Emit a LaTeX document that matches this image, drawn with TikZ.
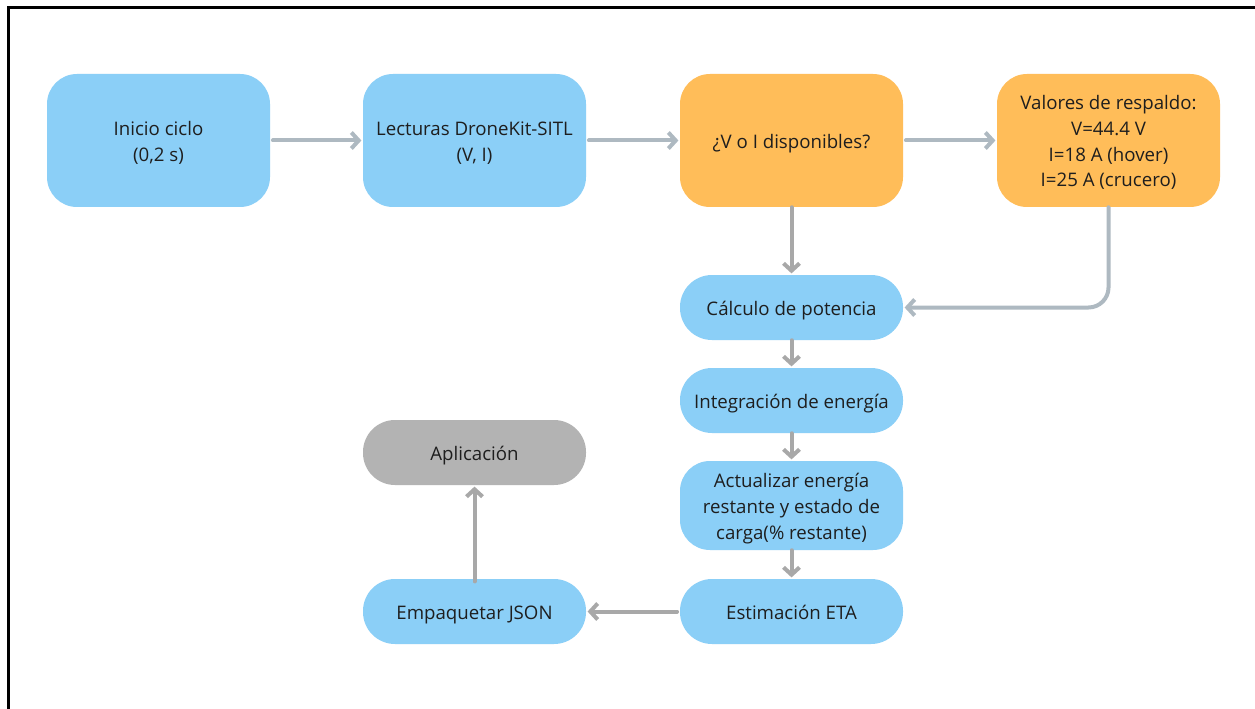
\documentclass[tikz,border=0pt]{standalone}
\usepackage{fontspec}
\setmainfont{Open Sans}
\usetikzlibrary{arrows.meta}
\definecolor{boxblue}{HTML}{8BCFF7}
\definecolor{boxorange}{HTML}{FFBD59}
\definecolor{boxgray}{HTML}{B3B3B3}
\definecolor{linkblue}{HTML}{AEB9C1}
\definecolor{linkgray}{HTML}{A8A8A8}
\definecolor{txt}{HTML}{1E1E1E}
% centred block of lines, set a little below the box centre
\newcommand{\boxlines}[1]{\raisebox{-2pt}[\height][\depth]{\begin{tabular}{@{}c@{}}#1\end{tabular}}}
\tikzset{
  base/.style={text=txt, inner sep=0pt, minimum width=167.25pt,
    font=\fontsize{14}{19.3}\selectfont},
  tallbox/.style={base, minimum height=99.75pt, rounded corners=22.5pt},
  pill/.style={base, minimum height=48.75pt, rounded corners=24pt},
  midbox/.style={base, minimum height=66.75pt, rounded corners=22.5pt},
  link/.style={line width=3pt, line cap=round, line join=round,
    -{Straight Barb[length=5.5pt,width=12pt,line width=3pt]}},
  linkb/.style={link, draw=linkblue},
  linkg/.style={link, draw=linkgray},
}
\begin{document}
\begin{tikzpicture}[x=0.75pt,y=-0.75pt]
  \useasboundingbox (0,0) rectangle (1255,709);
  \fill[white] (0,0) rectangle (1255,709);
  \begin{scope}
    \clip (0,0) rectangle (1255,709);
    \draw[line width=2.25pt, black] (8,8) rectangle (1265,720);
  \end{scope}

  % first row
  \node[tallbox, fill=boxblue]   (inicio) at (158.5,140.5)  {\boxlines{Inicio ciclo\\(0,2 s)}};
  \node[tallbox, fill=boxblue]   (lect)   at (474.5,140.5)  {\boxlines{Lecturas DroneKit-SITL\\(V, I)}};
  \node[tallbox, fill=boxorange] (disp)   at (791.5,140.5)  {\boxlines{¿V o I disponibles?}};
  \node[tallbox, fill=boxorange] (resp)   at (1108.5,140.5) {\boxlines{Valores de respaldo:\\V=44.4 V\\I=18 A (hover)\\I=25 A (crucero)}};

  % processing column
  \node[pill, fill=boxblue]   (pot)   at (791.5,307.5) {\boxlines{Cálculo de potencia}};
  \node[pill, fill=boxblue]   (integ) at (791.5,400.5) {\boxlines{Integración de energía}};
  \node[midbox, fill=boxblue] (act)   at (791.5,505.5) {\boxlines{Actualizar energía\\restante y estado de\\carga(\% restante)}};
  \node[pill, fill=boxblue]   (eta)   at (791.5,611.5) {\boxlines{Estimación ETA}};

  % output column
  \node[pill, fill=boxblue] (json) at (474.5,611.5) {\boxlines{Empaquetar JSON}};
  \node[pill, fill=boxgray] (app)  at (474.5,452.5) {\boxlines{Aplicación}};

  % connectors
  \draw[linkb] ([xshift=2pt]inicio.east) -- ([xshift=-1pt]lect.west);
  \draw[linkb] ([xshift=2pt]lect.east) -- ([xshift=-1pt]disp.west);
  \draw[linkb] ([xshift=2pt]disp.east) -- ([xshift=-1pt]resp.west);
  \draw[linkb, rounded corners=15pt] (resp.south) |- ([xshift=1pt]pot.east);
  \draw[linkg] (disp.south) -- ([yshift=1pt]pot.north);
  \draw[linkg] (pot.south) -- ([yshift=1pt]integ.north);
  \draw[linkg] (integ.south) -- ([yshift=1pt]act.north);
  \draw[linkg] (act.south) -- ([yshift=1pt]eta.north);
  \draw[linkg] ([xshift=-2pt]eta.west) -- ([xshift=1pt]json.east);
  \draw[linkg] ([yshift=-2pt]json.north) -- ([yshift=-1pt]app.south);
\end{tikzpicture}
\end{document}
